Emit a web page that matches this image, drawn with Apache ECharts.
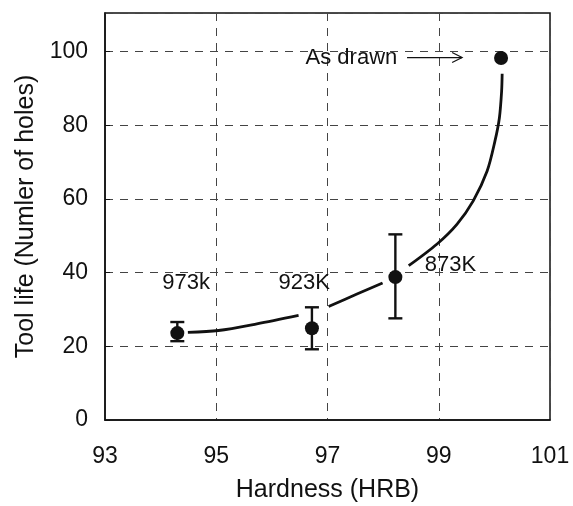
<!DOCTYPE html>
<html>
<head>
<meta charset="utf-8">
<script src="https://cdn.jsdelivr.net/npm/echarts@6/dist/echarts.min.js"></script>
<style>
html,body{margin:0;padding:0;background:#fff;}
#chart{width:573px;height:506px;}
</style>
</head>
<body>
<div id="chart"></div>
<script>
// Measured points
const hardness = [94.30, 96.72, 98.22, 100.12];
const toolLife = [23.6, 24.9, 38.8, 98.3];
const errLow  = [21.4, 19.2, 27.6];
const errHigh = [26.6, 30.6, 50.4];

// Hand-drawn trend curve, three broken segments
const curveSeg1 = [[94.49, 23.8], [95.04, 24.3], [95.73, 26.1], [96.48, 28.4]];
const curveSeg2 = [[97.02, 30.8], [97.53, 34.2], [97.99, 37.2]];
const curveSeg3 = [[98.46, 41.9], [98.97, 47.8], [99.33, 53.2], [99.62, 59.5], [99.87, 67.6], [100.01, 75.7], [100.09, 82.0], [100.13, 89.2], [100.14, 94.0]];

// Temperature labels
const labelText = ['973k', '923K', '873K'];
const labelPos = [[94.46, 37.2], [96.58, 37.2], [99.21, 42.0]];

// "As drawn" annotation
const noteText = 'As drawn';
const notePos = [97.43, 98.2];
const arrowFrom = [98.43, 98.4];
const arrowTo = [99.42, 98.4];

// Axis ticks
const xMin = 93, xMax = 101, xStep = 2;
const yMin = 0, yMax = 110.5, yStep = 20;

const FONT = '"Liberation Sans", Arial, Helvetica, sans-serif';
const INK = '#111';
const gridLine = {show: true, lineStyle: {color: '#444', width: 1, type: [8, 7]}};

const chart = echarts.init(document.getElementById('chart'));
const curveStyle = {color: INK, width: 2.8};

chart.setOption({
  backgroundColor: '#fff',
  animation: false,
  grid: {left: 105, right: 23, top: 13, bottom: 86, containLabel: false, outerBoundsMode: 'none',
         show: true, borderColor: INK, borderWidth: 1.5, backgroundColor: 'transparent'},
  xAxis: {
    type: 'value', min: xMin, max: xMax, interval: xStep,
    name: 'Hardness (HRB)', nameLocation: 'middle', nameGap: 58,
    nameTextStyle: {fontFamily: FONT, fontSize: 25, color: INK},
    axisLine: {show: true, lineStyle: {color: INK, width: 1.5}},
    axisTick: {show: false},
    axisLabel: {fontFamily: FONT, fontSize: 23, color: INK, margin: 25},
    splitLine: gridLine
  },
  yAxis: {
    type: 'value', min: yMin, max: yMax, interval: yStep,
    name: 'Tool life (Numler of holes)', nameLocation: 'middle', nameGap: 66,
    nameTextStyle: {fontFamily: FONT, fontSize: 25, color: INK},
    axisLine: {show: true, lineStyle: {color: INK, width: 1.5}},
    axisTick: {show: true, inside: true, length: 5, lineStyle: {color: INK}},
    axisLabel: {fontFamily: FONT, fontSize: 23, color: INK, margin: 17, showMaxLabel: false},
    splitLine: gridLine
  },
  series: [
    {type: 'line', data: curveSeg1, smooth: 0.3, showSymbol: false, symbol: 'none', lineStyle: curveStyle, z: 3},
    {type: 'line', data: curveSeg2, smooth: 0.3, showSymbol: false, symbol: 'none', lineStyle: curveStyle, z: 3},
    {type: 'line', data: curveSeg3, smooth: 0.3, showSymbol: false, symbol: 'none', lineStyle: curveStyle, z: 3},
    {
      type: 'custom',
      data: errLow.map((lo, i) => [hardness[i], lo, errHigh[i]]),
      renderItem: function (params, api) {
        const x = api.value(0);
        const pHi = api.coord([x, api.value(2)]);
        const pLo = api.coord([x, api.value(1)]);
        const cap = 7;
        const st = {stroke: INK, lineWidth: 2.4};
        return {type: 'group', children: [
          {type: 'line', shape: {x1: pHi[0], y1: pHi[1], x2: pLo[0], y2: pLo[1]}, style: st},
          {type: 'line', shape: {x1: pHi[0] - cap, y1: pHi[1], x2: pHi[0] + cap, y2: pHi[1]}, style: st},
          {type: 'line', shape: {x1: pLo[0] - cap, y1: pLo[1], x2: pLo[0] + cap, y2: pLo[1]}, style: st}
        ]};
      },
      z: 4
    },
    {
      type: 'scatter',
      data: hardness.map((x, i) => [x, toolLife[i]]),
      symbol: 'circle', symbolSize: 14,
      itemStyle: {color: INK, opacity: 1},
      z: 5
    },
    {
      type: 'custom',
      data: labelPos,
      renderItem: function (params, api) {
        const p = api.coord([api.value(0), api.value(1)]);
        return {type: 'text', x: p[0], y: p[1], style: {
          text: labelText[params.dataIndex], font: '22px ' + FONT, fill: INK,
          textAlign: 'center', textVerticalAlign: 'middle'
        }};
      },
      z: 6
    },
    {
      type: 'custom',
      data: [notePos],
      renderItem: function (params, api) {
        const p = api.coord([api.value(0), api.value(1)]);
        return {type: 'text', x: p[0], y: p[1], style: {
          text: noteText, font: '22px ' + FONT, fill: INK,
          textAlign: 'center', textVerticalAlign: 'middle'
        }};
      },
      z: 6
    },
    {
      type: 'custom',
      data: [[arrowFrom[0], arrowFrom[1], arrowTo[0], arrowTo[1]]],
      renderItem: function (params, api) {
        const a = api.coord([api.value(0), api.value(1)]);
        const b = api.coord([api.value(2), api.value(3)]);
        const st = {stroke: INK, lineWidth: 1.2, fill: null};
        return {type: 'group', children: [
          {type: 'line', shape: {x1: a[0], y1: a[1], x2: b[0], y2: b[1]}, style: st},
          {type: 'polyline', shape: {points: [[b[0] - 10, b[1] - 5], [b[0], b[1]], [b[0] - 10, b[1] + 5]]}, style: st}
        ]};
      },
      z: 6
    }
  ]
});
</script>
</body>
</html>
